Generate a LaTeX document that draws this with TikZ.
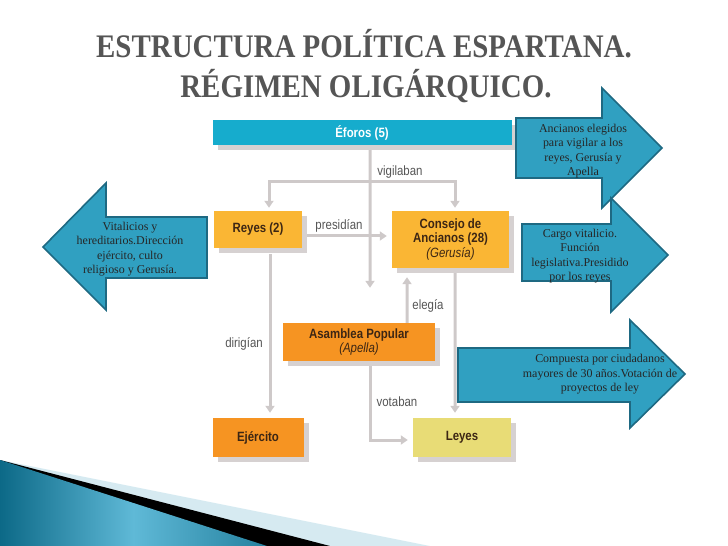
\documentclass[tikz,border=0pt]{standalone}
\usepackage{fontspec}
\setmainfont{Liberation Serif}
\newfontfamily\condsans[FakeStretch=0.85]{Liberation Sans}
\newfontfamily\titlefont[FakeStretch=0.88]{Liberation Serif}
\usetikzlibrary{arrows.meta,shadows}

\definecolor{eforoscyan}{RGB}{22,172,205}
\definecolor{reyesyellow}{RGB}{250,182,52}
\definecolor{asamorange}{RGB}{246,148,34}
\definecolor{leyesyellow}{RGB}{232,220,118}
\definecolor{shadowgray}{RGB}{214,209,209}
\definecolor{linegray}{RGB}{206,201,201}
\definecolor{boxtext}{RGB}{60,38,20}
\definecolor{labelgray}{RGB}{85,85,85}
\definecolor{calloutfill}{RGB}{48,160,193}
\definecolor{calloutedge}{RGB}{30,105,130}
\definecolor{titlegray}{RGB}{85,85,85}
\definecolor{tealdark}{RGB}{12,105,135}
\definecolor{teallight}{RGB}{95,185,215}
\definecolor{swooshlight}{RGB}{214,234,241}

\begin{document}
\begin{tikzpicture}[x=1bp, y=-1bp,
    box/.style={general shadow={fill=shadowgray, shadow xshift=5bp, shadow yshift=-5bp},
        inner sep=2bp, align=center, text=boxtext,
        font=\condsans\bfseries\fontsize{13.5}{15}\selectfont},
    lbl/.style={text=labelgray, inner sep=0pt, font=\condsans\fontsize{13.5}{15}\selectfont},
    conn/.style={draw=linegray, line width=3bp, -{Triangle[width=9bp,length=7bp]}},
    callout/.style={fill=calloutfill, draw=calloutedge, line width=1.6bp, line join=miter},
    callouttext/.style={align=center, inner sep=0pt, text=black!85,
        font=\fontsize{12}{14.5}\selectfont},
    titletext/.style={anchor=base, inner sep=0pt, text=titlegray,
        font=\titlefont\bfseries\fontsize{33}{36}\selectfont}]
    \useasboundingbox (0,0) rectangle (728,546);

    % bottom swoosh
    \fill[swooshlight] (0,460) -- (430,546) -- (0,546) -- cycle;
    \fill[black] (0,460) -- (330,546) -- (0,546) -- cycle;
    \shade[left color=tealdark, right color=tealdark!70!teallight, middle color=teallight]
        (0,460) -- (267,546) -- (0,546) -- cycle;

    % title
    \node[titletext] (t1) at (364,58) {ESTRUCTURA POLÍTICA ESPARTANA.};
    \node[titletext] (t2) at (366,98) {RÉGIMEN OLIGÁRQUICO.};

    % boxes
    \node[box, fill=eforoscyan, text=white, minimum width=299bp, minimum height=25bp]
        (eforos) at (362,132.5) {Éforos (5)};
    \node[box, fill=reyesyellow, minimum width=88bp, minimum height=37bp]
        (reyes) at (258,229.5) {Reyes (2)};
    \node[box, fill=reyesyellow, minimum width=117bp, minimum height=57bp]
        (consejo) at (450.5,239.5) {Consejo de\\Ancianos (28)\\{\mdseries\itshape (Gerusía)}};
    \node[box, fill=asamorange, minimum width=152bp, minimum height=38bp]
        (asamblea) at (359,342) {Asamblea Popular\\{\mdseries\itshape (Apella)}};
    \node[box, fill=asamorange, minimum width=91bp, minimum height=39bp]
        (ejercito) at (258,437.5) {Ejército};
    \node[box, fill=leyesyellow, minimum width=98bp, minimum height=39bp]
        (leyes) at (462,437.5) {Leyes};

    % connectors
    \draw[conn] ([xshift=8bp,yshift=-5bp]eforos.south) -- ([xshift=11bp,yshift=35bp]asamblea.north);
    \draw[conn, {Triangle[width=9bp,length=7bp]}-{Triangle[width=9bp,length=7bp]}]
        ([xshift=11bp,yshift=3bp]reyes.north) -- ++(0,-26) -| ([xshift=4.5bp,yshift=3bp]consejo.north);
    \draw[conn] ([xshift=5bp,yshift=-6.5bp]reyes.east) -- ([xshift=-5bp,yshift=-6.5bp]reyes.east -| consejo.west);
    \draw[conn] ([xshift=12bp,yshift=-6bp]reyes.south) -- ([xshift=12bp,yshift=5bp]ejercito.north);
    \draw[conn] ([xshift=48bp]asamblea.north) -- ([xshift=-43.5bp,yshift=-9bp]consejo.south);
    \draw[conn] ([xshift=4.5bp,yshift=-5bp]consejo.south) -- ([xshift=-7bp,yshift=5bp]leyes.north);
    \draw[conn] ([xshift=11bp,yshift=-5bp]asamblea.south) |- ([xshift=-5bp,yshift=-2.5bp]leyes.west);

    % connector labels
    \node[lbl] (lvig) at (400,172) {vigilaban};
    \node[lbl] (lpre) at (339,226) {presidían};
    \node[lbl] (ldir) at (244,344) {dirigían};
    \node[lbl] (lele) at (428,306) {elegía};
    \node[lbl] (lvot) at (397,402) {votaban};

    % callouts
    \draw[callout] (207,217) -- (106,217) -- (106,183) -- (43,247) -- (106,310) -- (106,278) -- (207,278) -- cycle;
    \node[callouttext] (creyes) at (130,249) {Vitalicios y\\hereditarios.Dirección\\ejército, culto\\religioso y Gerusía.};
    \draw[callout] (516,118) -- (602,118) -- (602,88) -- (662,148) -- (602,208) -- (602,178) -- (516,178) -- cycle;
    \node[callouttext] (ceforos) at (583,151) {Ancianos elegidos\\para vigilar a los\\reyes, Gerusía y\\Apella};
    \draw[callout] (522,224) -- (611,224) -- (611,198) -- (668,255) -- (611,312) -- (611,281) -- (522,281) -- cycle;
    \node[callouttext] (cconsejo) at (580,256) {Cargo vitalicio.\\Función\\legislativa.Presidido\\por los reyes};
    \draw[callout] (458,348) -- (630,348) -- (630,320) -- (685,374) -- (630,428) -- (630,402) -- (458,402) -- cycle;
    \node[callouttext] (casamblea) at (600,374.5) {Compuesta por ciudadanos\\mayores de 30 años.Votación de\\proyectos de ley};
\end{tikzpicture}
\end{document}
